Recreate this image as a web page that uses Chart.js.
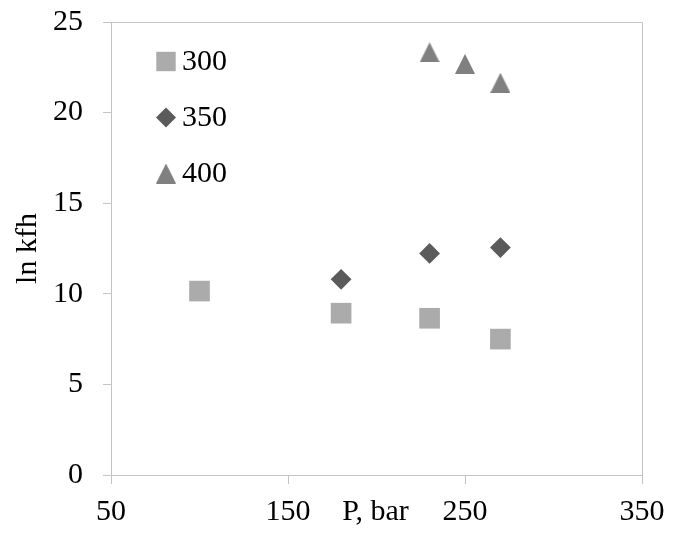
<!DOCTYPE html>
<html>
<head>
<meta charset="utf-8">
<title>ln kfh vs P</title>
<script src="https://cdn.jsdelivr.net/npm/chart.js@4/dist/chart.umd.min.js"></script>
<style>
  html, body { margin: 0; padding: 0; background: #ffffff; }
  canvas { display: block; }
</style>
</head>
<body>
<canvas id="chart" width="673" height="539"></canvas>
<script>
// Series labels (temperature groups)
const seriesLabels = ['300', '350', '400'];

// Pressure (bar) and ln kfh for each group
const p300 = [100, 180, 230, 270];
const k300 = [10.15, 8.93, 8.65, 7.5];

const p350 = [180, 230, 270];
const k350 = [10.8, 12.23, 12.55];

const p400 = [230, 250, 270];
const k400 = [23.33, 22.69, 21.65];

// Axis ticks and titles
const xTicks = [50, 150, 250, 350];
const yTicks = [0, 5, 10, 15, 20, 25];
const xTitle = 'P, bar';
const yTitle = 'ln kfh';

const FONT = '"Liberation Serif", "Times New Roman", serif';
const FONT_SIZE = 30;
const AXIS_GRAY = '#c4c4c4';
const colors = ['#ababab', '#5b5b5b', '#808080'];

// Isosceles triangle marker (equal width and height)
function triangleMarker(color, size) {
  const c = document.createElement('canvas');
  c.width = size; c.height = size;
  const g = c.getContext('2d');
  g.fillStyle = color;
  g.beginPath();
  g.moveTo(size / 2, 0);
  g.lineTo(size, size);
  g.lineTo(0, size);
  g.closePath();
  g.fill();
  return c;
}
const triImg = triangleMarker(colors[2], 20);

function toPoints(xs, ys) {
  return xs.map((x, i) => ({ x: x, y: ys[i] }));
}

const markerStyles = [
  { pointStyle: 'rect', radius: 14.6 },
  { pointStyle: 'rectRot', radius: 10.4 },
  { pointStyle: triImg, radius: 10 }
];

const datasets = [
  toPoints(p300, k300),
  toPoints(p350, k350),
  toPoints(p400, k400)
].map((pts, i) => ({
  label: seriesLabels[i],
  data: pts,
  pointStyle: markerStyles[i].pointStyle,
  pointRadius: markerStyles[i].radius,
  pointHoverRadius: markerStyles[i].radius,
  backgroundColor: colors[i],
  borderColor: colors[i],
  pointBorderWidth: 0,
  showLine: false
}));

// Top and right edges of the plot frame
const frame = {
  id: 'frame',
  beforeDatasetsDraw(chart) {
    const { ctx, chartArea: a } = chart;
    ctx.save();
    ctx.strokeStyle = AXIS_GRAY;
    ctx.lineWidth = 1;
    ctx.beginPath();
    ctx.moveTo(Math.round(a.left) + 0.5, Math.round(a.top) + 0.5);
    ctx.lineTo(Math.round(a.right) + 0.5, Math.round(a.top) + 0.5);
    ctx.lineTo(Math.round(a.right) + 0.5, Math.round(a.bottom) + 0.5);
    ctx.stroke();
    ctx.restore();
  }
};

// Legend inside the plot, top-left, one row per series
const insideLegend = {
  id: 'insideLegend',
  afterDraw(chart) {
    const { ctx } = chart;
    const mx = 166, tx = 182, y0 = 61.5, dy = 56;
    ctx.save();
    chart.data.datasets.forEach((ds, i) => {
      const y = y0 + i * dy;
      ctx.fillStyle = colors[i];
      if (i === 0) {
        ctx.fillRect(mx - 9.7, y - 9.7, 19.4, 19.4);
      } else if (i === 1) {
        ctx.beginPath();
        ctx.moveTo(mx - 10, y);
        ctx.lineTo(mx, y - 10);
        ctx.lineTo(mx + 10, y);
        ctx.lineTo(mx, y + 10);
        ctx.closePath();
        ctx.fill();
      } else {
        ctx.drawImage(triImg, mx - 10, y - 10);
      }
      ctx.fillStyle = '#000000';
      ctx.font = FONT_SIZE + 'px ' + FONT;
      ctx.textAlign = 'left';
      ctx.textBaseline = 'middle';
      ctx.fillText(ds.label, tx, y + 1);
    });
    ctx.restore();
  }
};

// X-axis title sits on the tick-label row, centred on the plot
const xTitlePlugin = {
  id: 'xTitleRow',
  afterDraw(chart) {
    const { ctx, chartArea: a } = chart;
    ctx.save();
    ctx.fillStyle = '#000000';
    ctx.font = FONT_SIZE + 'px ' + FONT;
    ctx.textAlign = 'center';
    ctx.textBaseline = 'middle';
    ctx.fillText(xTitle, (a.left + a.right) / 2 - 1, a.bottom + 37);
    ctx.restore();
  }
};

new Chart(document.getElementById('chart'), {
  type: 'scatter',
  data: { datasets: datasets },
  options: {
    responsive: false,
    animation: false,
    devicePixelRatio: 1,
    layout: { padding: { left: 0, top: 22, right: 31, bottom: 0 } },
    plugins: { legend: { display: false }, tooltip: { enabled: false } },
    scales: {
      x: {
        type: 'linear',
        min: xTicks[0],
        max: xTicks[xTicks.length - 1],
        afterBuildTicks(scale) { scale.ticks = xTicks.map(v => ({ value: v })); },
        afterFit(scale) {
          scale.height = 64;
          scale.paddingLeft = 0;
          scale.paddingRight = 0;
        },
        grid: { drawOnChartArea: false, drawTicks: true, tickLength: 9, color: AXIS_GRAY },
        border: { display: true, color: AXIS_GRAY, width: 1 },
        ticks: { color: '#000000', padding: 10, maxRotation: 0, font: { family: FONT, size: FONT_SIZE } }
      },
      y: {
        type: 'linear',
        min: yTicks[0],
        max: yTicks[yTicks.length - 1],
        afterBuildTicks(scale) { scale.ticks = yTicks.map(v => ({ value: v })); },
        afterFit(scale) {
          scale.width = 111;
          scale.paddingTop = 0;
          scale.paddingBottom = 0;
        },
        grid: { drawOnChartArea: false, drawTicks: true, tickLength: 8, color: AXIS_GRAY },
        border: { display: true, color: AXIS_GRAY, width: 1 },
        ticks: { color: '#000000', padding: 20, font: { family: FONT, size: FONT_SIZE } },
        title: {
          display: true,
          text: yTitle,
          color: '#000000',
          padding: { top: 10, bottom: 0 },
          font: { family: FONT, size: FONT_SIZE }
        }
      }
    }
  },
  plugins: [frame, insideLegend, xTitlePlugin]
});
</script>
</body>
</html>
